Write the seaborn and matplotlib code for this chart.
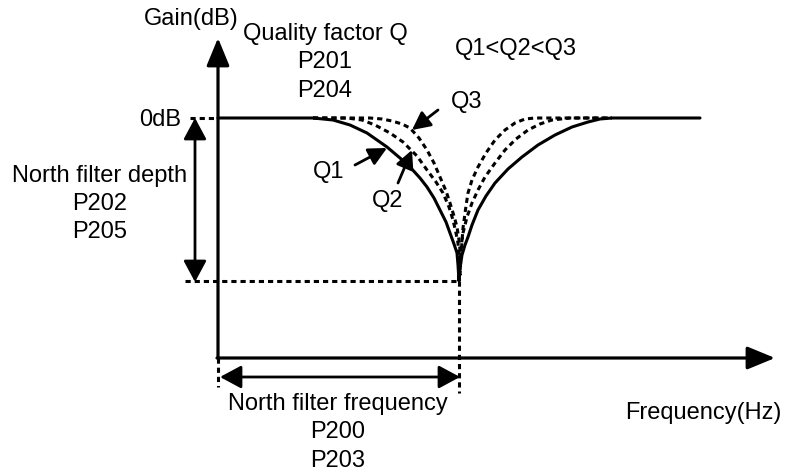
import numpy as np
import pandas as pd
import seaborn as sns
import matplotlib
matplotlib.use('Agg')
import matplotlib.pyplot as plt

# notch filter sketch, coordinates (pixel-like units, y grows downward)
gain_0db = 118
notch_depth_y = 281
notch_freq_x = 459
origin = (218, 358)

# Q1 (solid)
q1_x = [218, 313, 333, 350, 367, 387, 400, 410, 420, 427, 434, 440, 446, 450, 454, 457, 458, 459,
        460, 462, 465, 468, 472, 478, 486, 495, 508, 522, 538, 555, 572, 588, 600, 612, 700]
q1_y = [118, 118, 120, 125, 133, 147, 158, 167, 178, 187, 198, 210, 222, 233, 244, 253, 265, 281,
        268, 255, 245, 237, 225, 210, 196, 183, 169, 157, 145, 135, 127, 122, 119, 118, 118]
# Q2 (dashed)
q2_x = [313, 347, 362, 375, 390, 403, 417, 427, 436, 443, 449, 453, 456, 458, 459, 459,
        460, 461, 463, 467, 472, 478, 485, 495, 505, 516, 528, 540, 552, 570, 612]
q2_y = [118, 118, 120, 125, 133, 142, 156, 170, 182, 193, 207, 220, 233, 243, 260, 278,
        262, 248, 233, 217, 203, 190, 177, 163, 150, 139, 130, 124, 120, 118, 118]
# Q3 (dashed)
q3_x = [313, 370, 382, 392, 402, 410, 419, 427, 434, 440, 446, 450, 454, 457, 459, 460, 460,
        461, 463, 466, 468, 472, 478, 486, 495, 505, 515, 525, 535, 612]
q3_y = [118, 118, 119, 121, 124, 128, 138, 150, 163, 177, 191, 203, 216, 227, 240, 250, 275,
        255, 228, 206, 193, 180, 167, 153, 140, 130, 123, 119, 118, 118]

# label texts: (text, x, y baseline, ha)
labels = [
    ("Gain(dB)", 191, 25, "center"),
    ("Quality factor Q", 325, 40, "center"),
    ("P201", 325, 68, "center"),
    ("P204", 325, 97, "center"),
    ("Q1<Q2<Q3", 516, 55, "center"),
    ("Q3", 467, 108, "center"),
    ("0dB", 181, 126, "right"),
    ("North filter depth", 100, 182, "center"),
    ("P202", 100, 210, "center"),
    ("P205", 100, 238, "center"),
    ("Q1", 329, 178, "center"),
    ("Q2", 388, 207, "center"),
    ("North filter frequency", 338, 410, "center"),
    ("P200", 338, 438, "center"),
    ("P203", 338, 467, "center"),
    ("Frequency(Hz)", 703, 419, "center"),
]

# small pointer arrows: (tail, tip)
pointers = [((438, 110), (412, 130)),
            ((355, 165), (387, 148)),
            ((398, 183), (412, 150))]

sns.set_style("white")
plt.rcParams['font.family'] = ['Liberation Sans', 'DejaVu Sans']

fig = plt.figure(figsize=(7.85, 4.72), dpi=100)
ax = fig.add_axes([0, 0, 1, 1])
ax.set_xlim(0, 785)
ax.set_ylim(472, 0)
ax.axis('off')

dash = (0, (1.7, 1.3))
dlw = 2.2

# curves
sns.lineplot(x=q1_x, y=q1_y, sort=False, estimator=None, color='black', lw=2.2, ax=ax)
sns.lineplot(x=q2_x, y=q2_y, sort=False, estimator=None, color='black', lw=dlw, linestyle=dash, ax=ax)
sns.lineplot(x=q3_x, y=q3_y, sort=False, estimator=None, color='black', lw=dlw, linestyle=dash, ax=ax)

# guide lines
ax.plot([190, origin[0]], [gain_0db, gain_0db], color='black', lw=dlw, linestyle=dash)
ax.plot([185, notch_freq_x], [notch_depth_y, notch_depth_y], color='black', lw=dlw, linestyle=dash)
ax.plot([origin[0], origin[0]], [origin[1], 387], color='black', lw=dlw, linestyle=dash)
ax.plot([notch_freq_x, notch_freq_x], [notch_depth_y, 393], color='black', lw=dlw, linestyle=dash)

# axes with arrows
big = dict(arrowstyle='-|>,head_length=17,head_width=7', color='black', lw=2.3,
           shrinkA=0, shrinkB=0, mutation_scale=1)
ax.annotate('', xy=(origin[0], 38), xytext=origin, arrowprops=big)
ax.annotate('', xy=(775, origin[1]), xytext=(origin[0] - 1, origin[1]), arrowprops=big)

# double arrows for depth and frequency
dbl = dict(arrowstyle='<|-|>,head_length=13,head_width=7', color='black', lw=2.0,
           shrinkA=0, shrinkB=0, mutation_scale=1)
ax.annotate('', xy=(195, gain_0db), xytext=(195, notch_depth_y + 1), arrowprops=dbl)
ax.annotate('', xy=(origin[0] + 2, 377), xytext=(notch_freq_x + 1, 377), arrowprops=dbl)

# pointer arrows
small = dict(arrowstyle='-|>,head_length=11,head_width=5.5', color='black', lw=2.0,
             shrinkA=0, shrinkB=0, mutation_scale=1)
for tail, tip in pointers:
    ax.annotate('', xy=tip, xytext=tail, arrowprops=small)

for txt, x, y, ha in labels:
    ax.text(x, y, txt, fontsize=17, ha=ha, va='baseline', color='black')

fig.savefig('out.png', dpi=100)
